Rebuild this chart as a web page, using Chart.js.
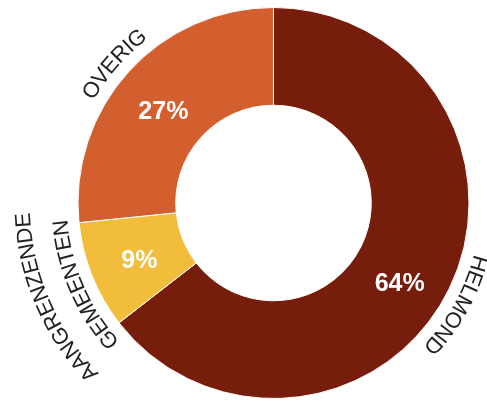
<!DOCTYPE html>
<html>
<head>
<meta charset="utf-8">
<script src="https://cdn.jsdelivr.net/npm/chart.js@4/dist/chart.umd.min.js"></script>
<style>
  html, body { margin: 0; padding: 0; background: #fff; }
  #wrap { width: 487px; height: 401px; }
</style>
</head>
<body>
<div id="wrap"><canvas id="chart" width="487" height="401"></canvas></div>
<script>
// Slice data, clockwise from 12 o'clock
const categories = [['HELMOND'], ['AANGRENZENDE', 'GEMEENTEN'], ['OVERIG']];
const shares = [64.5, 8.9, 26.6];
const percentLabels = ['64%', '9%', '27%'];
const sliceColors = ['#771d0c', '#f2bd3a', '#d45f2e'];

// Draws the white percentages inside the ring and the curved category names outside it
const arcLabels = {
    id: 'arcLabels',
    afterDatasetsDraw(chart, args, opts) {
        const ctx = chart.ctx;
        const meta = chart.getDatasetMeta(0);
        const deg = Math.PI / 180;

        meta.data.forEach((arc, i) => {
            const p = arc.getProps(['x', 'y', 'startAngle', 'endAngle', 'innerRadius', 'outerRadius'], true);
            const mid = (p.startAngle + p.endAngle) / 2;

            // percentage
            const a = mid + (opts.pctShift[i] || 0) * deg;
            const r = (p.innerRadius + p.outerRadius) / 2;
            ctx.save();
            ctx.font = 'bold 25px "Liberation Sans", Arial, sans-serif';
            ctx.fillStyle = '#ffffff';
            ctx.textAlign = 'center';
            ctx.textBaseline = 'middle';
            ctx.fillText(percentLabels[i], p.x + r * Math.cos(a) + 2, p.y + r * Math.sin(a) + 3.5);
            ctx.restore();

            // curved name, last line closest to the ring
            const lines = categories[i];
            const nameMid = mid + (opts.nameShift[i] || 0) * deg;
            ctx.save();
            ctx.font = '22px "Liberation Sans", Arial, sans-serif';
            ctx.fillStyle = '#222222';
            ctx.textAlign = 'center';
            ctx.textBaseline = 'middle';
            lines.forEach((text, li) => {
                const lr = p.outerRadius + opts.gap + (lines.length - 1 - li) * opts.lineGap;
                const total = ctx.measureText(text).width;
                const a0 = nameMid - total / (2 * lr);
                for (let k = 0; k < text.length; k++) {
                    const ch = text[k];
                    const off = ctx.measureText(text.substring(0, k)).width;
                    const cw = ctx.measureText(ch).width;
                    const ang = a0 + (off + cw / 2) / lr;
                    ctx.save();
                    ctx.translate(p.x + lr * Math.cos(ang), p.y + lr * Math.sin(ang));
                    ctx.rotate(ang + Math.PI / 2);
                    ctx.fillText(ch, 0, 0);
                    ctx.restore();
                }
            });
            ctx.restore();
        });
    }
};

new Chart(document.getElementById('chart'), {
    type: 'doughnut',
    data: {
        labels: categories.map(c => c.join(' ')),
        datasets: [{
            data: shares,
            backgroundColor: sliceColors,
            borderColor: '#ffffff',
            borderWidth: 1
        }]
    },
    options: {
        responsive: false,
        animation: false,
        devicePixelRatio: 1,
        cutout: '50%',
        layout: { padding: { left: 60, right: 0, top: 7, bottom: 2 } },
        plugins: {
            legend: { display: false },
            tooltip: { enabled: false },
            arcLabels: { gap: 17.5, lineGap: 37, pctShift: [6, 0, -2], nameShift: [3, -1.5, -1] }
        }
    },
    plugins: [arcLabels]
});
</script>
</body>
</html>
